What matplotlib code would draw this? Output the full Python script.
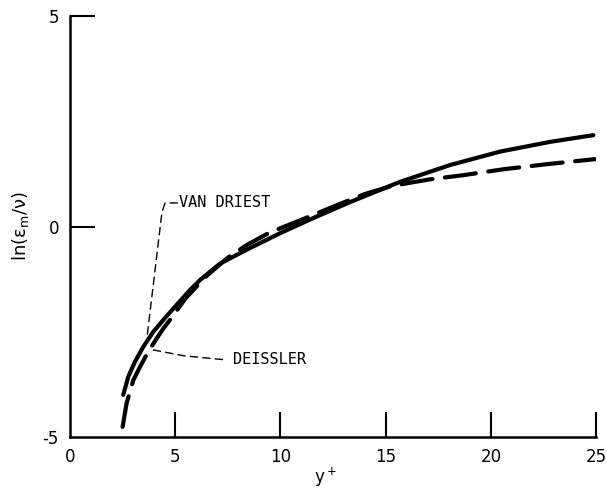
import matplotlib
matplotlib.use("Agg")
import matplotlib.pyplot as plt

plt.rcParams['axes.unicode_minus'] = False

# Van Driest (solid)
vd_y = [2.53, 2.77, 3.09, 3.48, 3.96, 4.52, 5.07, 5.70, 6.18, 7.13, 8.40, 9.98,
        11.56, 13.31, 15.68, 18.06, 20.44, 22.81, 24.87]
vd_ln = [-4.00, -3.57, -3.21, -2.86, -2.50, -2.17, -1.86, -1.51, -1.27, -0.88, -0.55, -0.16,
         0.20, 0.58, 1.06, 1.46, 1.78, 2.01, 2.17]

# Deissler (dashed)
de_y = [2.50, 2.69, 3.01, 3.33, 3.72, 4.12, 4.44, 4.75, 5.5, 6.5, 7.5, 8.4, 9.35, 10.0,
        11.0, 12.5, 14.0, 15.2, 16.05, 17.1, 18.7, 20.6, 22.65, 24.95]
de_ln = [-4.76, -4.20, -3.65, -3.33, -2.97, -2.66, -2.42, -2.22, -1.70, -1.17, -0.74, -0.44, -0.18, -0.04,
         0.16, 0.47, 0.77, 0.95, 1.03, 1.12, 1.22, 1.36, 1.48, 1.60]

xticks = [0, 5, 10, 15, 20, 25]
yticks = [-5, 0, 5]

fig = plt.figure(figsize=(6.07, 4.93), dpi=100)
ax = fig.add_axes([0.1153, 0.1136, 0.8667, 0.8539])

ax.plot(vd_y, vd_ln, color='black', lw=3.0, solid_capstyle='round', solid_joinstyle='round')
ax.plot(de_y, de_ln, color='black', lw=3.0, dashes=(7.5, 3), dash_capstyle='round',
        dash_joinstyle='round')

# leader lines
ax.plot([5.13, 4.52, 4.37, 3.66], [0.56, 0.56, 0.34, -2.63], color='black', lw=1.0, ls=(0, (6, 3)))
ax.plot([3.94, 5.4, 7.45], [-2.93, -3.07, -3.17], color='black', lw=1.0, ls=(0, (6, 3)))
ax.text(5.2, 0.56, 'VAN DRIEST', family='DejaVu Sans Mono', fontsize=11, va='center', ha='left')
ax.text(7.75, -3.17, 'DEISSLER', family='DejaVu Sans Mono', fontsize=11, va='center', ha='left')

ax.set_xlim(0, 25)
ax.set_ylim(-5, 5)
for s in ['top', 'right']:
    ax.spines[s].set_visible(False)
for s in ['left', 'bottom']:
    ax.spines[s].set_linewidth(1.8)
ax.set_xticks(xticks)
ax.set_yticks(yticks)
ax.tick_params(direction='in', length=18, width=1.5, labelsize=12, pad=8)
ax.xaxis.get_major_ticks()[0].tick1line.set_visible(False)
ax.yaxis.get_major_ticks()[0].tick1line.set_visible(False)
ax.set_xlabel(r'y$^+$', fontsize=12)
ax.xaxis.set_label_coords(0.485, -0.068)
ax.set_ylabel(r'ln(ε$_{\rm m}$/ν)', fontsize=13)
ax.yaxis.set_label_coords(-0.075, 0.5)

fig.savefig('out.png', dpi=100)
